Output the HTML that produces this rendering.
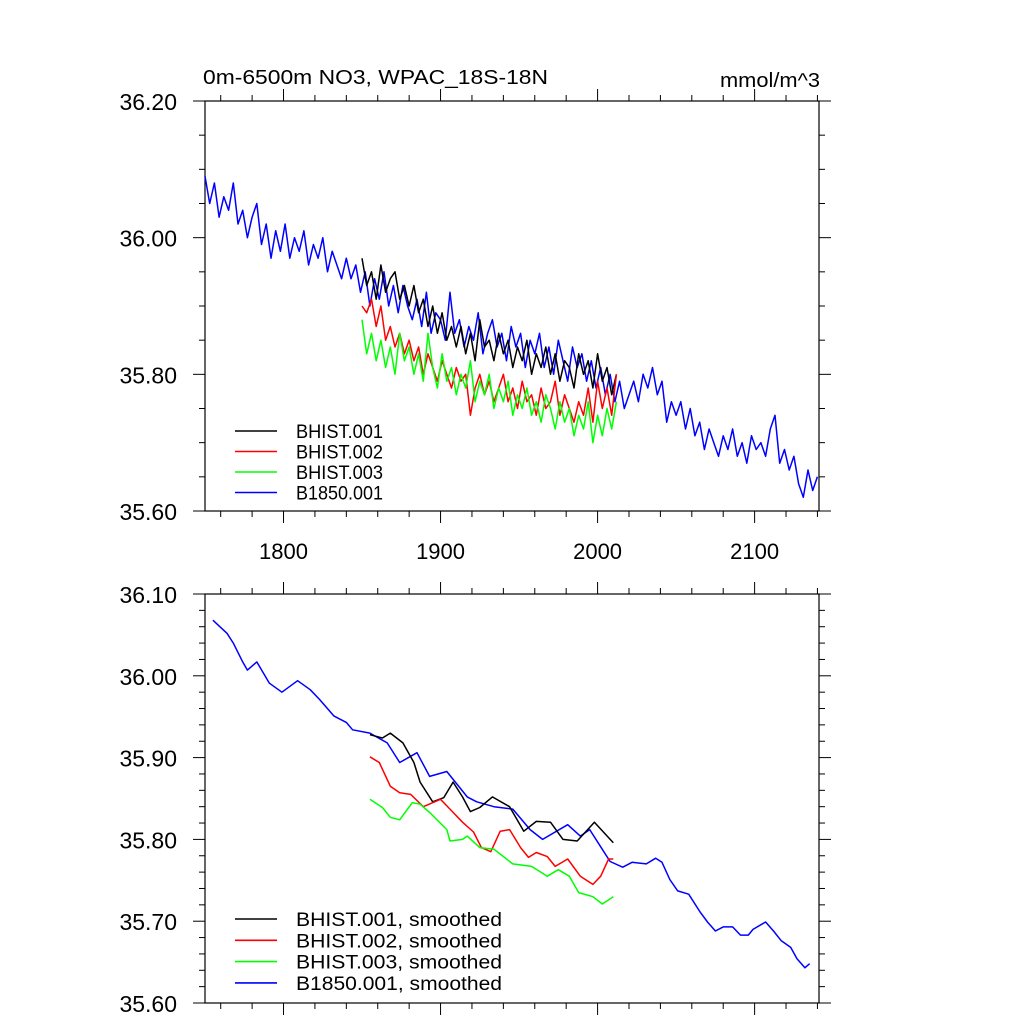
<!DOCTYPE html>
<html><head><meta charset="utf-8"><style>
html,body{margin:0;padding:0;background:#fff;}
svg text{font-family:"Liberation Sans",sans-serif;fill:#000;}
</style></head>
<body>
<svg id="chart" width="1024" height="1024" viewBox="0 0 1024 1024" xmlns="http://www.w3.org/2000/svg">
<rect x="0" y="0" width="1024" height="1024" fill="#fff"/>
<text x="203" y="84" font-size="20" textLength="345" lengthAdjust="spacingAndGlyphs">0m-6500m NO3, WPAC_18S-18N</text>
<text x="720" y="87" font-size="20" textLength="100" lengthAdjust="spacingAndGlyphs">mmol/m^3</text>
<g id="top"></g>
<g id="bot"></g>
</svg>
<script>
// ---- Top panel data (annual, 3-year samples) ----
const blueStartYear = 1750, histStartYear = 1850, sampleStep = 3;
const blueRaw = [36.09,36.05,36.08,36.03,36.06,36.04,36.08,36.02,36.04,36.00,36.03,
36.05,35.99,36.02,35.97,36.01,35.98,36.02,35.97,36.00,35.98,
36.01,35.96,35.99,35.97,36.00,35.95,35.98,35.96,35.94,35.97,
35.94,35.96,35.92,35.95,35.90,35.94,35.91,35.95,35.90,35.93,
35.89,35.93,35.90,35.88,35.91,35.87,35.92,35.86,35.89,35.88,
35.85,35.92,35.86,35.88,35.84,35.87,35.85,35.89,35.83,35.86,
35.88,35.84,35.86,35.82,35.87,35.84,35.86,35.81,35.85,35.83,
35.86,35.81,35.84,35.80,35.85,35.82,35.79,35.84,35.81,35.83,
35.79,35.82,35.78,35.81,35.77,35.80,35.76,35.79,35.75,35.77,
35.79,35.76,35.80,35.78,35.81,35.77,35.79,35.73,35.76,35.74,
35.76,35.72,35.75,35.71,35.73,35.69,35.72,35.70,35.68,35.71,
35.69,35.72,35.68,35.70,35.67,35.71,35.69,35.70,35.68,35.72,
35.74,35.67,35.69,35.66,35.68,35.64,35.62,35.66,35.63,35.65];
const blackRaw = [35.97,35.93,35.95,35.91,35.96,35.92,35.94,35.95,35.91,35.93,
35.90,35.93,35.89,35.91,35.87,35.90,35.86,35.89,35.85,35.87,
35.84,35.87,35.83,35.86,35.82,35.88,35.84,35.85,35.82,35.86,
35.83,35.85,35.81,35.84,35.82,35.85,35.80,35.83,35.81,35.84,
35.80,35.83,35.79,35.82,35.81,35.78,35.83,35.80,35.82,35.78,
35.83,35.79,35.81,35.77,35.80];
const redRaw = [35.90,35.89,35.91,35.87,35.90,35.85,35.87,35.84,35.86,35.83,
35.85,35.82,35.84,35.80,35.83,35.81,35.79,35.82,35.80,35.78,
35.81,35.79,35.80,35.74,35.78,35.80,35.77,35.79,35.76,35.78,
35.80,35.76,35.78,35.75,35.79,35.76,35.77,35.74,35.78,35.75,
35.76,35.79,35.74,35.77,35.75,35.73,35.76,35.74,35.78,35.73,
35.79,35.75,35.78,35.74,35.80];
const greenRaw = [35.88,35.83,35.86,35.82,35.85,35.81,35.84,35.80,35.86,35.82,
35.84,35.80,35.83,35.79,35.86,35.81,35.78,35.83,35.79,35.81,
35.77,35.80,35.78,35.82,35.76,35.79,35.77,35.80,35.75,35.78,
35.76,35.79,35.74,35.77,35.75,35.78,35.74,35.76,35.73,35.77,
35.75,35.72,35.76,35.73,35.75,35.71,35.74,35.72,35.76,35.70,
35.74,35.71,35.75,35.72,35.76];
// ---- Bottom panel data (smoothed) ----
const blueSmYears = [1755,1764,1768,1774,1777,1783,1791,1799,1809,1817,1823,1832,1840,1844,1855,1866,1874,1885,1893,1904,1917,1923,1934,1946,1957,1965,1981,1989,1995,2002,2008,2016,2022,2031,2037,2041,2046,2051,2058,2065,2070,2075,2080,2086,2091,2096,2099,2107,2112,2117,2123,2127,2132,2135];
const blueSm = [36.068,36.052,36.040,36.017,36.007,36.017,35.991,35.980,35.994,35.983,35.971,35.951,35.943,35.934,35.930,35.918,35.894,35.906,35.877,35.883,35.852,35.846,35.840,35.837,35.812,35.800,35.818,35.804,35.812,35.791,35.773,35.766,35.772,35.770,35.777,35.772,35.751,35.737,35.733,35.712,35.699,35.688,35.693,35.693,35.683,35.683,35.690,35.699,35.688,35.676,35.668,35.654,35.643,35.648];
const blackSmYears = [1855,1863,1868,1876,1883,1887,1895,1902,1908,1914,1919,1925,1933,1944,1953,1961,1970,1978,1987,1998,2010];
const blackSm = [35.928,35.924,35.930,35.918,35.894,35.870,35.846,35.851,35.870,35.852,35.834,35.839,35.852,35.840,35.810,35.822,35.821,35.800,35.798,35.821,35.796];
const redSmYears = [1855,1861,1868,1874,1881,1889,1900,1906,1914,1921,1926,1932,1938,1944,1951,1956,1961,1968,1973,1981,1989,1997,2002,2007,2010];
const redSm = [35.901,35.894,35.865,35.857,35.855,35.840,35.849,35.837,35.821,35.809,35.790,35.785,35.810,35.812,35.790,35.778,35.784,35.779,35.767,35.776,35.755,35.745,35.755,35.776,35.776];
const greenSmYears = [1855,1863,1868,1874,1882,1887,1893,1904,1906,1914,1917,1925,1934,1946,1958,1968,1975,1982,1988,1997,2003,2010];
const greenSm = [35.849,35.839,35.827,35.824,35.845,35.843,35.833,35.812,35.798,35.800,35.804,35.790,35.788,35.770,35.767,35.755,35.763,35.755,35.735,35.730,35.721,35.730];
// ---- Tick labels ----
const xTickYears = [1800,1900,2000,2100];
const xTickLabels = ["1800","1900","2000","2100"];
const topYTicks = [35.60,35.80,36.00,36.20];
const topYLabels = ["35.60","35.80","36.00","36.20"];
const botYTicks = [35.60,35.70,35.80,35.90,36.00,36.10];
const botYLabels = ["35.60","35.70","35.80","35.90","36.00","36.10"];
const topLegend = ["BHIST.001","BHIST.002","BHIST.003","B1850.001"];
const botLegend = ["BHIST.001, smoothed","BHIST.002, smoothed","BHIST.003, smoothed","B1850.001, smoothed"];

const NS = "http://www.w3.org/2000/svg";
const colors = ["#000000","#ff0000","#00ff00","#0000ff"];
function mk(tag, parent, attrs){ const e=document.createElementNS(NS,tag); for(const k in attrs) e.setAttribute(k,attrs[k]); parent.appendChild(e); return e; }
const L=205, R=819, X0=1750, X1=2141;
const xs = y => L + (y - X0) / (X1 - X0) * (R - L);

function panel(g, T, B, y0, y1, majStep, minStep, yTicks, yLabels, showXLabels, pname){
  const ys = v => B - (v - y0) / (y1 - y0) * (B - T);
  const fr = mk('rect', g, {x:L,y:T,width:R-L,height:B-T,fill:'none',stroke:'#000','stroke-width':1.2});
  
  
  const tg = mk('g', g, {stroke:'#000','stroke-width':1});
  
  
  for(let yr=1760; yr<=X1; yr+=20){
    const x=xs(yr); const len = (yr%100===0)?12:6;
    mk('line', tg, {x1:x,x2:x,y1:B,y2:B+len});
    mk('line', tg, {x1:x,x2:x,y1:T,y2:T-len});
  }
  const n = Math.round((y1-y0)/minStep);
  for(let i=0;i<=n;i++){
    const v=y0+i*minStep; const y=ys(v);
    const isMaj = Math.abs(Math.round((v-y0)/majStep)*majStep-(v-y0))<1e-6;
    const len=isMaj?12:6;
    mk('line', tg, {x1:L,x2:L-len,y1:y,y2:y});
    mk('line', tg, {x1:R,x2:R+len,y1:y,y2:y});
  }
  yTicks.forEach((v,i)=>{
    const t=mk('text', g, {x:177,y:ys(v)+9,'font-size':23,'text-anchor':'end'});
    t.textContent=yLabels[i];
    
    
  });
  if(showXLabels){
    xTickYears.forEach((yr,i)=>{
      const t=mk('text', g, {x:xs(yr),y:B+48,'font-size':22,'text-anchor':'middle'});
      t.textContent=xTickLabels[i];
      
      
    });
  }
  return ys;
}
function line(g, years, vals, ys, color, name){
  const d = vals.map((v,i)=>(i?'L':'M')+xs(years[i]).toFixed(1)+' '+ys(v).toFixed(1)).join(' ');
  const p = mk('path', g, {d:d,fill:'none',stroke:color,'stroke-width':1.5,'stroke-linejoin':'round'});
  
  
}
function legend(g, labels, y0, dy, pname, tlen){
  labels.forEach((lab,i)=>{
    const y=y0+i*dy;
    const lg=mk('g', g, {});
    
    
    mk('line', lg, {x1:235,x2:277,y1:y,y2:y,stroke:colors[i],'stroke-width':1.6});
    const t=mk('text', lg, {x:296,y:y+7,'font-size':19,textLength:tlen,lengthAdjust:'spacingAndGlyphs'});
    t.textContent=lab;
  });
}
// Top
const gt=document.getElementById('top');
const ysT = panel(gt,101,511,35.6,36.2,0.2,0.05,topYTicks,topYLabels,true,'top');
const yrs = (start,n)=>Array.from({length:n},(_,i)=>start+i*sampleStep);
line(gt, yrs(blueStartYear,blueRaw.length), blueRaw, ysT, colors[3], 'series-b1850-001');
line(gt, yrs(histStartYear,blackRaw.length), blackRaw, ysT, colors[0], 'series-bhist-001');
line(gt, yrs(histStartYear,redRaw.length), redRaw, ysT, colors[1], 'series-bhist-002');
line(gt, yrs(histStartYear,greenRaw.length), greenRaw, ysT, colors[2], 'series-bhist-003');
legend(gt, topLegend, 431, 20.5, 'top', 87);
// Bottom
const gb=document.getElementById('bot');
const ysB = panel(gb,594,1003,35.6,36.1,0.1,0.02,botYTicks,botYLabels,false,'bottom');
line(gb, blueSmYears, blueSm, ysB, colors[3], 'series-b1850-001-smoothed');
line(gb, blackSmYears, blackSm, ysB, colors[0], 'series-bhist-001-smoothed');
line(gb, redSmYears, redSm, ysB, colors[1], 'series-bhist-002-smoothed');
line(gb, greenSmYears, greenSm, ysB, colors[2], 'series-bhist-003-smoothed');
legend(gb, botLegend, 919, 21.3, 'bottom', 206);
</script>
</body></html>
